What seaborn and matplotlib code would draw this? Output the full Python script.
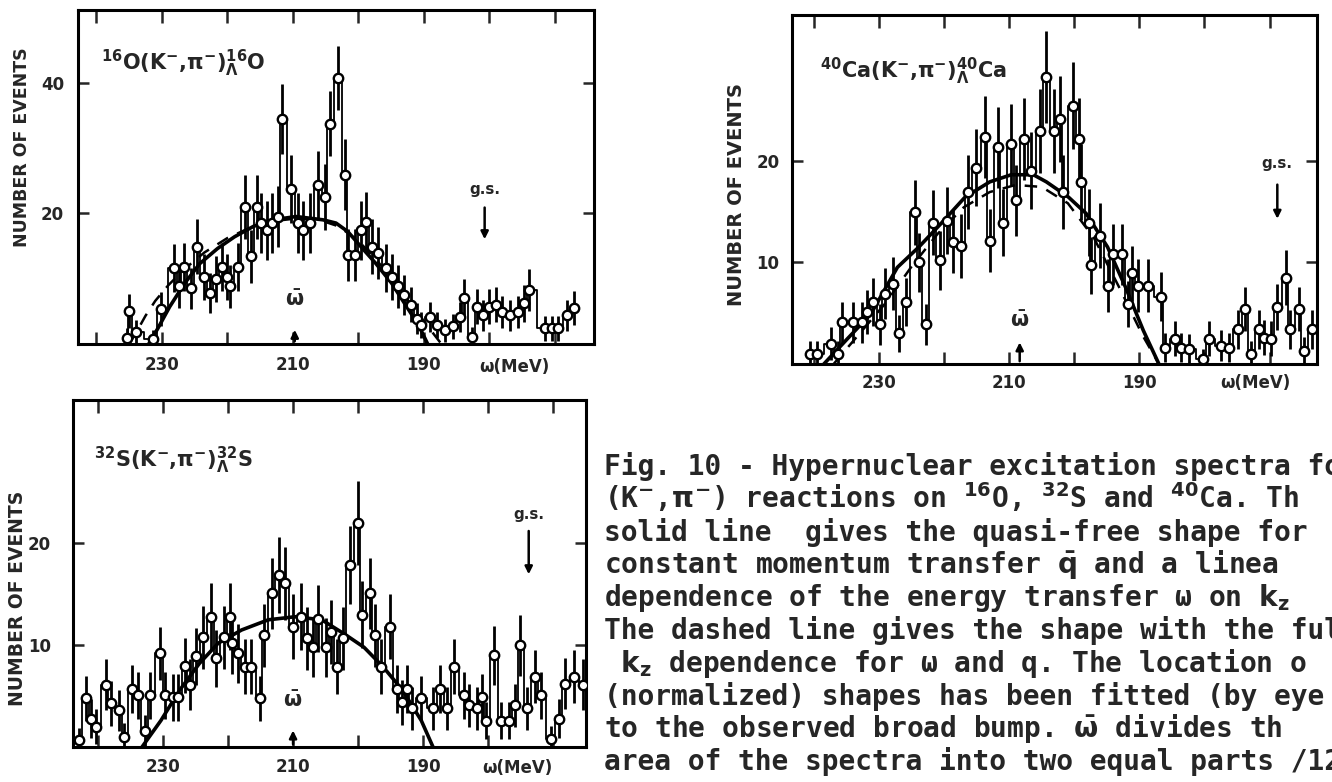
import matplotlib
matplotlib.use("Agg")
import matplotlib.pyplot as plt
import matplotlib.transforms as mtransforms
import pandas as pd
import seaborn as sns

# ---------------- 16O(K-,pi-) spectrum ----------------
o16_omega = [235.3, 235.0, 234.0, 231.3, 230.1, 228.1, 227.4, 226.6, 225.6, 224.6,
             223.6, 222.7, 221.8, 220.8, 220.1, 219.6, 218.4, 217.3, 216.4, 215.4,
             214.8, 214.0, 213.2, 212.2, 211.6, 210.2, 209.2, 208.4, 207.3, 206.1,
             205.1, 204.3, 203.1, 202.0, 201.5, 200.5, 199.6, 198.8, 197.9, 197.0,
             195.8, 194.9, 193.9, 193.0, 192.0, 191.1, 190.4, 189.1, 187.9, 186.7,
             185.6, 184.4, 183.9, 182.6, 181.8, 180.9, 180.0, 179.0, 178.1, 176.8,
             175.6, 174.7, 173.9, 171.5, 170.4, 169.5, 168.1, 167.1]
o16_counts = [0.9, 5.1, 1.9, 0.7, 5.3, 11.6, 8.8, 11.8, 8.5, 14.9,
              10.3, 7.8, 10.0, 11.8, 10.3, 8.8, 11.8, 21.0, 13.4, 21.0,
              18.5, 17.4, 18.5, 19.5, 34.4, 23.7, 18.5, 17.4, 18.5, 24.3,
              22.5, 33.7, 40.7, 25.9, 13.6, 13.6, 17.4, 18.6, 14.9, 13.9,
              11.6, 10.3, 8.8, 7.5, 6.0, 3.9, 2.9, 4.2, 2.9, 2.1,
              2.7, 4.2, 7.0, 1.1, 5.7, 4.4, 5.7, 6.0, 4.9, 4.4,
              4.9, 6.2, 8.3, 2.4, 2.4, 2.4, 4.4, 5.5]
o16_err = [1.5, 2.6, 1.7, 1.5, 2.6, 3.7, 3.3, 3.7, 3.2, 4.2,
           3.5, 3.1, 3.5, 3.7, 3.5, 3.3, 3.7, 4.9, 4.0, 4.9,
           4.6, 4.5, 4.6, 4.7, 5.4, 5.2, 4.6, 4.5, 4.6, 5.2,
           5.0, 5.0, 4.9, 5.4, 4.0, 4.0, 4.5, 4.6, 4.2, 4.0,
           3.7, 3.5, 3.3, 3.0, 2.7, 2.3, 2.0, 2.3, 2.0, 1.8,
           1.9, 2.3, 2.9, 1.5, 2.7, 2.4, 2.7, 2.7, 2.5, 2.4,
           2.5, 2.8, 3.2, 1.9, 1.9, 1.9, 2.4, 2.6]
o16_fit_omega = [232.0, 230.6, 228.8, 226.5, 224.2, 221.5, 218.9, 216.0, 213.0, 209.5,
                 205.4, 203.4, 201.6, 199.6, 197.3, 194.9, 192.6, 190.8, 189.4]
o16_fit = [0.0, 2.4, 5.7, 9.3, 12.3, 14.6, 16.4, 18.0, 19.0, 19.5,
           19.0, 18.5, 17.2, 14.9, 12.3, 9.3, 5.7, 2.9, 0.0]
o16_full_omega = [235.0, 234.0, 232.5, 231.0, 229.0, 226.5, 223.5, 220.0, 216.5, 213.0,
                  209.5, 206.0, 203.0, 200.0, 197.0, 194.0, 191.0, 189.0, 187.3]
o16_full = [0.0, 1.6, 4.3, 6.6, 9.0, 11.5, 14.0, 16.2, 17.8, 18.8,
            19.2, 19.0, 18.0, 15.8, 12.6, 8.8, 4.8, 2.2, 0.0]

# ---------------- 40Ca(K-,pi-) spectrum ----------------
ca40_omega = [240.7, 239.5, 237.4, 236.4, 235.7, 234.1, 232.6, 231.8, 230.9, 229.9,
              229.1, 227.9, 226.9, 225.9, 224.5, 223.9, 222.8, 221.8, 220.6, 219.6,
              218.6, 217.4, 216.3, 215.1, 213.7, 213.0, 211.8, 211.0, 209.7, 208.9,
              207.8, 206.6, 205.3, 204.4, 203.2, 202.2, 201.7, 200.2, 199.3, 198.9,
              197.8, 197.5, 196.1, 194.9, 194.1, 192.7, 191.7, 191.1, 190.2, 188.7,
              186.7, 186.0, 184.5, 183.6, 182.3, 180.3, 179.3, 177.4, 176.2, 174.9,
              173.7, 172.8, 171.6, 170.8, 169.7, 168.8, 167.4, 166.8, 165.5, 164.7,
              163.4]
ca40_counts = [1.0, 1.0, 2.0, 1.0, 4.1, 4.1, 4.1, 5.1, 6.1, 3.9,
               6.9, 7.9, 3.0, 6.1, 14.9, 10.0, 3.9, 13.9, 10.2, 14.1,
               12.0, 11.6, 16.9, 19.3, 22.3, 12.1, 21.3, 13.9, 21.6, 16.1,
               22.1, 19.0, 22.9, 28.2, 22.9, 24.1, 16.9, 25.4, 22.1, 17.9,
               13.9, 9.7, 12.6, 7.7, 10.8, 10.8, 5.9, 8.9, 7.7, 7.7,
               6.6, 1.6, 2.5, 1.6, 1.5, 0.5, 2.5, 1.8, 1.6, 3.4,
               5.4, 1.0, 3.4, 2.6, 2.5, 5.6, 8.5, 3.4, 5.4, 1.3,
               3.4]
ca40_err = [1.3, 1.3, 1.6, 1.3, 2.0, 2.0, 2.0, 2.2, 2.4, 2.0,
            2.5, 2.6, 1.8, 2.4, 3.2, 2.9, 2.0, 3.2, 2.9, 3.3,
            3.1, 3.1, 3.6, 3.8, 4.0, 3.1, 4.0, 3.3, 4.0, 3.5,
            4.0, 3.8, 4.1, 4.5, 4.1, 4.2, 3.6, 4.3, 4.0, 3.7,
            3.3, 2.8, 3.2, 2.6, 3.0, 3.0, 2.3, 2.7, 2.6, 2.6,
            2.4, 1.4, 1.7, 1.4, 1.4, 1.0, 1.7, 1.5, 1.4, 1.9,
            2.2, 1.3, 1.9, 1.7, 1.7, 2.3, 2.7, 1.9, 2.2, 1.4,
            1.9]
ca40_fit_omega = [238.5, 235.0, 231.3, 227.2, 223.9, 220.5, 216.8, 213.0, 209.7, 206.3,
                  204.3, 200.9, 198.2, 194.9, 192.1, 189.4, 187.0]
ca40_fit = [0.0, 2.4, 4.9, 9.5, 11.5, 13.8, 16.4, 17.9, 18.6, 18.6,
            17.9, 16.4, 14.8, 11.5, 7.5, 3.3, 0.0]
ca40_full_omega = [237.0, 233.0, 229.0, 225.0, 221.0, 217.0, 213.0, 209.0, 205.0, 201.0,
                   197.0, 193.0, 189.5, 187.0]
ca40_full = [0.0, 3.0, 6.0, 9.6, 12.8, 15.4, 16.9, 17.6, 17.4, 15.8,
             12.4, 7.4, 2.8, 0.0]

# ---------------- 32S(K-,pi-) spectrum ----------------
s32_omega = [242.9, 241.8, 241.0, 240.2, 238.8, 237.9, 236.8, 235.9, 234.7, 233.8,
             232.8, 231.9, 230.4, 229.6, 228.5, 227.6, 226.6, 225.9, 224.9, 223.8,
             222.6, 221.8, 220.6, 219.7, 219.4, 218.5, 217.4, 216.4, 215.1, 214.4,
             213.2, 212.2, 211.2, 210.0, 208.8, 207.9, 206.9, 206.2, 205.0, 204.1,
             203.2, 202.4, 201.2, 200.0, 199.4, 198.2, 197.4, 196.5, 195.1, 194.1,
             193.2, 192.5, 191.8, 190.4, 188.5, 187.4, 186.3, 185.3, 183.8, 182.9,
             181.8, 181.0, 180.3, 179.1, 178.0, 176.9, 175.9, 175.1, 174.1, 172.9,
             171.9, 170.4, 169.2, 168.2, 166.8, 165.5]
s32_counts = [0.7, 4.8, 2.8, 2.0, 6.1, 4.3, 3.6, 1.0, 5.7, 5.1,
              1.6, 5.1, 9.2, 5.1, 4.9, 4.9, 8.0, 6.1, 8.9, 10.8,
              12.8, 8.7, 10.8, 12.8, 10.2, 9.2, 7.9, 7.9, 4.8, 11.0,
              15.1, 16.9, 16.1, 11.8, 12.8, 10.7, 9.8, 12.6, 9.8, 11.3,
              7.9, 10.7, 17.9, 22.0, 13.0, 15.1, 11.0, 7.9, 11.8, 5.7,
              4.4, 5.7, 3.8, 4.8, 3.8, 5.7, 3.8, 7.9, 5.1, 4.1,
              3.8, 4.9, 2.6, 9.0, 2.6, 2.6, 4.1, 10.0, 3.8, 6.9,
              5.1, 0.8, 2.8, 6.2, 6.9, 6.1]
s32_err = [1.2, 2.2, 1.9, 1.7, 2.5, 2.2, 2.0, 1.4, 2.4, 2.3,
           1.5, 2.3, 2.6, 2.3, 2.3, 2.3, 2.7, 2.5, 2.8, 3.1,
           3.3, 2.8, 3.1, 3.3, 3.0, 2.9, 2.7, 2.7, 2.2, 3.1,
           3.5, 3.7, 3.6, 3.2, 3.3, 3.1, 2.9, 3.3, 2.9, 3.1,
           2.7, 3.1, 3.8, 4.1, 3.3, 3.5, 3.1, 2.7, 3.2, 2.4,
           2.2, 2.4, 2.1, 2.2, 2.1, 2.4, 2.1, 2.7, 2.3, 2.1,
           2.1, 2.3, 1.8, 2.9, 1.8, 1.8, 2.1, 3.0, 2.1, 2.6,
           2.3, 1.3, 1.9, 2.5, 2.6, 2.5]
s32_fit_omega = [233.2, 230.3, 227.4, 224.4, 221.5, 217.9, 213.8, 209.7, 205.6, 202.1,
                 199.1, 196.2, 193.2, 190.3, 188.5]
s32_fit = [0.0, 2.6, 5.6, 8.2, 10.2, 11.5, 12.5, 12.8, 12.5, 11.1,
           9.8, 7.9, 5.6, 2.6, 0.0]

# axis ticks (MeV), labelled every 20 MeV
omega_ticks = [240, 230, 220, 210, 200, 190, 180, 170]
omega_tick_labels = ["", "230", "", "210", "", "190", "", ""]

caption_lines = [
    "Fig. 10 - Hypernuclear excitation spectra fo",
    "(K$^{-}$,$\\pi^{-}$) reactions on $^{16}$O, $^{32}$S and $^{40}$Ca. Th",
    "solid line  gives the quasi-free shape for",
    "constant momentum transfer $\\bar{q}$ and a linea",
    "dependence of the energy transfer \u03c9 on $k_{z}$",
    "The dashed line gives the shape with the ful",
    " $k_{z}$ dependence for \u03c9 and q. The location o",
    "(normalized) shapes has been fitted (by eye",
    "to the observed broad bump. $\\bar{\\omega}$ divides th",
    "area of the spectra into two equal parts /12",
]

sns.set_style("white")
plt.rcParams["font.family"] = ["DejaVu Sans"]
plt.rcParams["font.weight"] = "bold"
plt.rcParams["mathtext.fontset"] = "dejavusans"
plt.rcParams["mathtext.default"] = "bf"

W, H = 1332, 782
fig = plt.figure(figsize=(W / 100, H / 100), dpi=100)
fig.patch.set_facecolor("white")


def frame(left, top, right, bottom):
    return [left / W, 1 - bottom / H, (right - left) / W, (bottom - top) / H]


def draw_spectrum(ax, omega, counts, err, fit_om, fit_v, full_om, full_v,
                  xlim, ylim, yticks, title, title_xy, wbar, gs, mev_x,
                  ypad, xpad):
    df = pd.DataFrame({"omega": omega, "counts": counts, "err": err})
    ax.errorbar(df["omega"], df["counts"], yerr=df["err"], fmt="none",
                ecolor="black", elinewidth=2.0, capsize=0, zorder=2)
    sns.lineplot(data=df, x="omega", y="counts", ax=ax, color="black",
                 lw=1.3, drawstyle="steps-mid", estimator=None, sort=False,
                 zorder=2)
    sns.lineplot(x=fit_om, y=fit_v, ax=ax, color="black", lw=2.6,
                 estimator=None, sort=False, zorder=3)
    if full_om is not None:
        sns.lineplot(x=full_om, y=full_v, ax=ax, color="black", lw=1.8,
                     linestyle=(0, (5, 4)), estimator=None, sort=False,
                     zorder=3)
    sns.scatterplot(data=df, x="omega", y="counts", ax=ax, marker="o", s=46,
                    facecolor="white", edgecolor="black", linewidth=1.7,
                    zorder=4)

    ax.set_xlim(*xlim)
    ax.set_ylim(*ylim)
    ax.set_xlabel("")
    ax.set_ylabel("")
    ax.set_xticks(omega_ticks)
    ax.set_xticklabels(omega_tick_labels)
    ax.set_yticks(yticks)
    ax.set_yticklabels([str(v) for v in yticks])
    ax.tick_params(axis="x", direction="in", length=9, width=1.8,
                   top=True, bottom=True, labelsize=12, pad=xpad)
    ax.tick_params(axis="y", direction="in", length=8, width=1.8,
                   left=True, right=True, labelsize=12, pad=ypad)
    for sp in ax.spines.values():
        sp.set_linewidth(2.2)
        sp.set_color("black")

    ax.text(title_xy[0], title_xy[1], title, transform=ax.transAxes,
            ha="left", va="center", fontsize=15, fontweight="bold")

    # mean excitation energy marker
    w_om, w_lab, w_tip = wbar
    ax.annotate("", xy=(w_om, w_tip), xytext=(w_om, 0),
                arrowprops=dict(arrowstyle="-|>", color="black", lw=1.8,
                                mutation_scale=11), zorder=5)
    ax.text(w_om, w_lab, r"$\bar{\omega}$", ha="center", va="center",
            fontsize=15)

    # ground-state position
    g_om, g_lab, g_top, g_tip = gs
    ax.text(g_om, g_lab, "g.s.", ha="center", va="center", fontsize=11,
            fontweight="bold")
    ax.annotate("", xy=(g_om, g_tip), xytext=(g_om, g_top),
                arrowprops=dict(arrowstyle="-|>", color="black", lw=1.8,
                                mutation_scale=11), zorder=5)

    ax.text(mev_x[0], mev_x[1], "\u03c9(MeV)", transform=ax.transAxes,
            ha="center", va="center", fontsize=12, fontweight="bold")


ax1 = fig.add_axes(frame(78, 10, 594, 344))
draw_spectrum(ax1, o16_omega, o16_counts, o16_err, o16_fit_omega, o16_fit,
              o16_full_omega, o16_full, (242.8, 164.0), (0, 51.1), [20, 40],
              r"$^{16}$O(K$^{-}$,$\pi^{-}$)$^{16}_{\Lambda}$O", (0.045, 0.84),
              (209.7, 6.8, 2.6), (180.7, 23.6, 21.3, 15.6), (0.845, -0.07),
              ypad=10, xpad=9)

ax2 = fig.add_axes(frame(792, 15, 1317, 364))
draw_spectrum(ax2, ca40_omega, ca40_counts, ca40_err, ca40_fit_omega, ca40_fit,
              ca40_full_omega, ca40_full, (243.4, 162.7), (0, 34.3), [10, 20],
              r"$^{40}$Ca(K$^{-}$,$\pi^{-}$)$^{40}_{\Lambda}$Ca", (0.053, 0.837),
              (208.4, 4.3, 2.4), (168.8, 19.7, 17.9, 14.0), (0.882, -0.055),
              ypad=9, xpad=7)

ax3 = fig.add_axes(frame(73, 400, 586, 747))
draw_spectrum(ax3, s32_omega, s32_counts, s32_err, s32_fit_omega, s32_fit,
              None, None, (243.8, 165.0), (0, 34.1), [10, 20],
              r"$^{32}$S(K$^{-}$,$\pi^{-}$)$^{32}_{\Lambda}$S", (0.041, 0.827),
              (210.0, 4.5, 1.9), (173.8, 22.8, 21.5, 16.7), (0.866, -0.06),
              ypad=16, xpad=8)

# rotated axis titles
for (px, py, size) in [(22, 147, 12.5), (736, 195, 14), (18, 598, 13.5)]:
    fig.text(px / W, 1 - py / H, "NUMBER OF EVENTS", rotation=90,
             ha="center", va="center", fontsize=size, fontweight="bold")

# figure caption beside the lower panel
for i, line in enumerate(caption_lines):
    y_mid = 467 + 32.8 * i
    fig.text(604 / W, 1 - (y_mid + 8) / H, line, ha="left", va="baseline",
             fontsize=20.1, fontweight="bold", family="DejaVu Sans Mono")

fig.savefig("out.png", dpi=100, facecolor="white")
